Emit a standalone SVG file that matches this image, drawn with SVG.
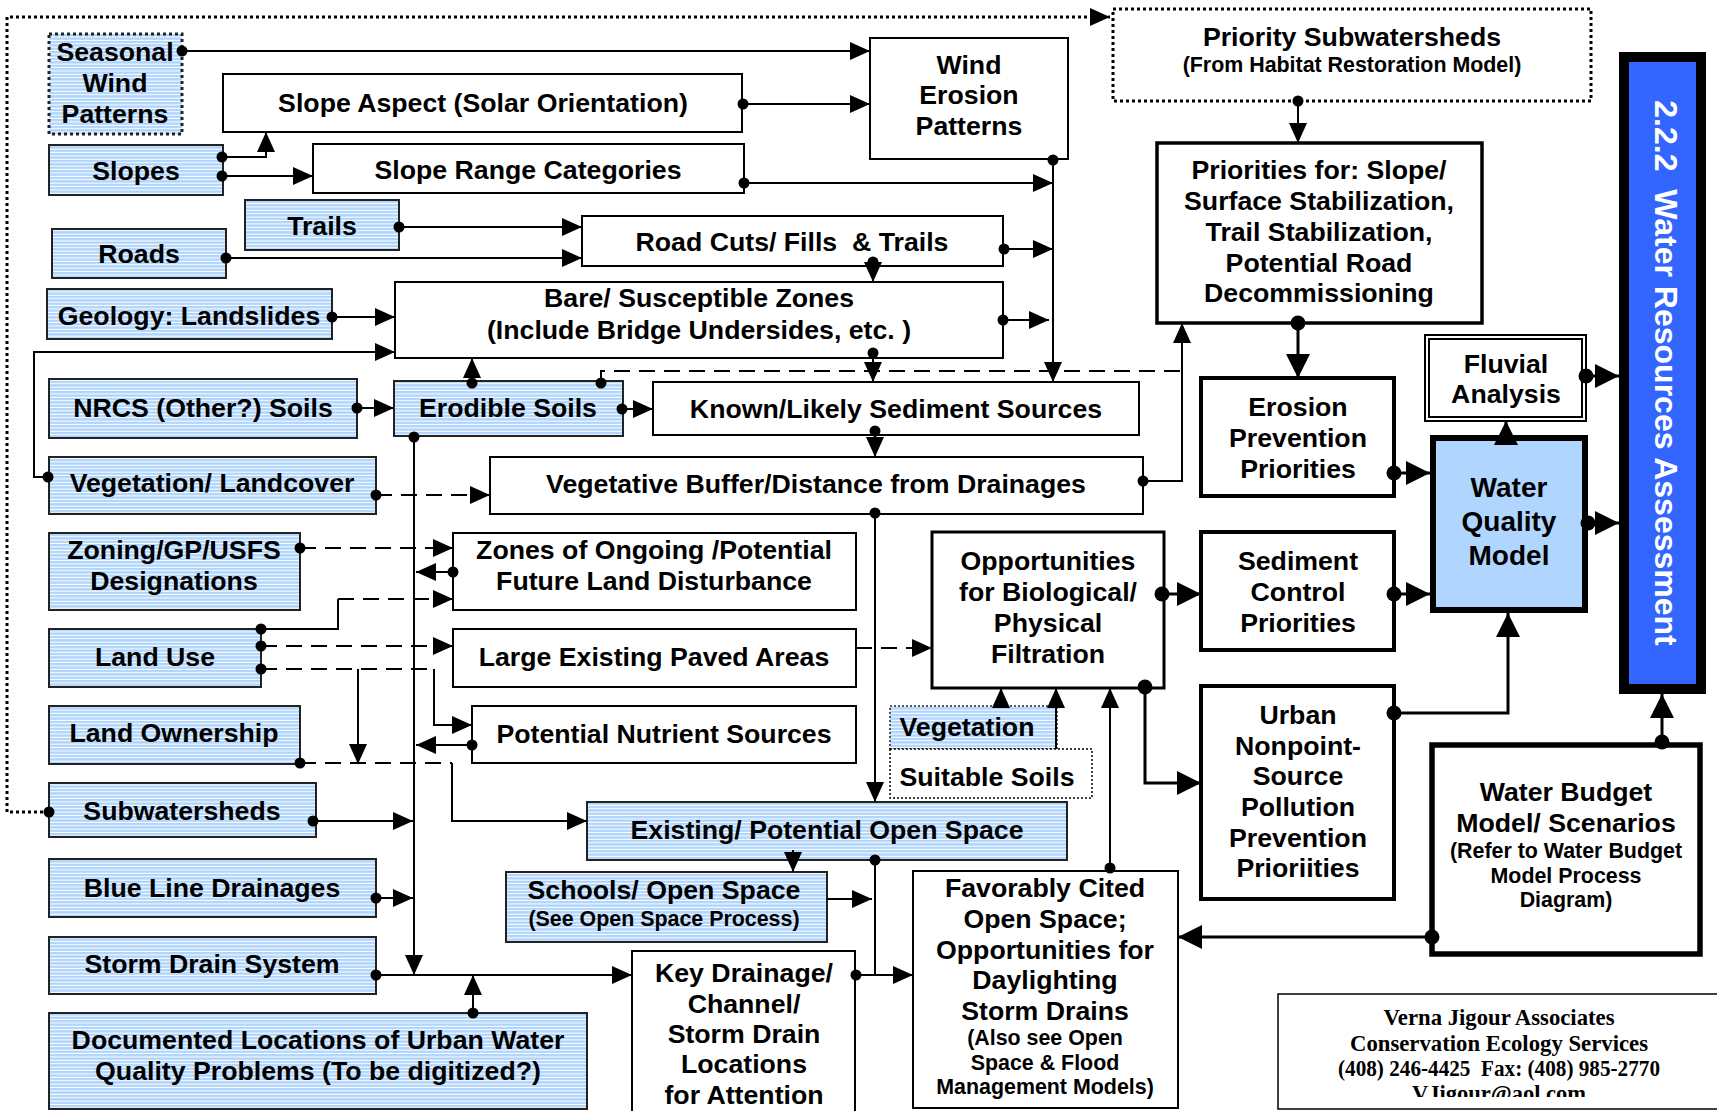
<svg xmlns="http://www.w3.org/2000/svg" width="1717" height="1111" viewBox="0 0 1717 1111">
<style>
.box{fill:#fff;stroke:#000;stroke-width:2}
.blue{fill:url(#st);stroke:#222;stroke-width:2}
.dotb{stroke-dasharray:3 3;stroke-width:3}
.fine{stroke-dasharray:2 2;stroke-width:1.5}
.t{font-family:"Liberation Sans",Arial,sans-serif;font-weight:bold;font-size:26.7px;text-anchor:middle;fill:#000;white-space:pre}
.s{font-size:21.4px}
.c{fill:none;stroke:#000;stroke-width:2}
.L{stroke-width:3}
.dash{stroke-dasharray:16 9}
.dot{stroke-dasharray:3 3;stroke-width:3}
.ft{font-family:"Liberation Serif","Times New Roman",serif;font-weight:bold;font-size:22.5px;text-anchor:middle;fill:#000;white-space:pre}
</style>
<defs>
<pattern id="st" patternUnits="userSpaceOnUse" width="10" height="3.4">
<rect width="10" height="3.4" fill="#b0d5fc"/>
<rect y="2.4" width="10" height="1" fill="#fff"/>
</pattern>
<marker id="a" markerUnits="userSpaceOnUse" viewBox="0 0 20 18" markerWidth="20" markerHeight="18" refX="20" refY="9" orient="auto"><path d="M0,0 L20,9 L0,18 z" fill="#000"/></marker>
<marker id="A" markerUnits="userSpaceOnUse" viewBox="0 0 24 24" markerWidth="24" markerHeight="24" refX="24" refY="12" orient="auto"><path d="M0,0 L24,12 L0,24 z" fill="#000"/></marker>
<marker id="d" markerUnits="userSpaceOnUse" viewBox="0 0 13 13" markerWidth="13" markerHeight="13" refX="6.5" refY="6.5"><circle cx="6.5" cy="6.5" r="5.5" fill="#000"/></marker>
<marker id="D" markerUnits="userSpaceOnUse" viewBox="0 0 17 17" markerWidth="17" markerHeight="17" refX="8.5" refY="8.5"><circle cx="8.5" cy="8.5" r="7.5" fill="#000"/></marker>
<clipPath id="fc"><rect x="1270" y="990" width="450" height="107"/></clipPath>
</defs>
<rect width="1717" height="1111" fill="#fff"/>

<g id="n-seasonal"><rect class="blue dotb" x="49" y="34" width="133" height="100"/><text class="t" x="115" y="61">Seasonal</text><text class="t" x="115" y="92">Wind</text><text class="t" x="115" y="123">Patterns</text></g>
<g id="n-slopeaspect"><rect class="box" x="223" y="74" width="519" height="58"/><text class="t" x="483" y="112">Slope Aspect (Solar Orientation)</text></g>
<g id="n-slopes"><rect class="blue" x="49" y="145" width="174" height="50"/><text class="t" x="136" y="180">Slopes</text></g>
<g id="n-sloperange"><rect class="box" x="313" y="144" width="431" height="49"/><text class="t" x="528" y="179">Slope Range Categories</text></g>
<g id="n-winderosion"><rect class="box" x="870" y="38" width="198" height="121"/><text class="t" x="969" y="74">Wind</text><text class="t" x="969" y="104">Erosion</text><text class="t" x="969" y="135">Patterns</text></g>
<g id="n-trails"><rect class="blue" x="245" y="200" width="154" height="50"/><text class="t" x="322" y="235">Trails</text></g>
<g id="n-roads"><rect class="blue" x="52" y="229" width="174" height="49"/><text class="t" x="139" y="263">Roads</text></g>
<g id="n-roadcuts"><rect class="box" x="582" y="216" width="421" height="50"/><text class="t" x="792" y="251">Road Cuts/ Fills  &amp; Trails</text></g>
<g id="n-geology"><rect class="blue" x="47" y="289" width="285" height="50"/><text class="t" x="189" y="325">Geology: Landslides</text></g>
<g id="n-bare"><rect class="box" x="395" y="282" width="608" height="76"/><text class="t" x="699" y="307">Bare/ Susceptible Zones</text><text class="t" x="699" y="339">(Include Bridge Undersides, etc. )</text></g>
<g id="n-nrcs"><rect class="blue" x="49" y="379" width="308" height="59"/><text class="t" x="203" y="417">NRCS (Other?) Soils</text></g>
<g id="n-erodible"><rect class="blue" x="394" y="381" width="229" height="55"/><text class="t" x="508" y="417">Erodible Soils</text></g>
<g id="n-known"><rect class="box" x="653" y="382" width="486" height="53"/><text class="t" x="896" y="418">Known/Likely Sediment Sources</text></g>
<g id="n-veglandcover"><rect class="blue" x="49" y="457" width="327" height="57"/><text class="t" x="212" y="492">Vegetation/ Landcover</text></g>
<g id="n-vegbuffer"><rect class="box" x="490" y="457" width="653" height="57"/><text class="t" x="816" y="493">Vegetative Buffer/Distance from Drainages</text></g>
<g id="n-zoning"><rect class="blue" x="49" y="533" width="251" height="77"/><text class="t" x="174" y="559">Zoning/GP/USFS</text><text class="t" x="174" y="590">Designations</text></g>
<g id="n-zones"><rect class="box" x="453" y="533" width="403" height="77"/><text class="t" x="654" y="559">Zones of Ongoing /Potential</text><text class="t" x="654" y="590">Future Land Disturbance</text></g>
<g id="n-opportunities"><rect class="box" x="932" y="532" width="232" height="156" style="stroke-width:3"/><text class="t" x="1048" y="570">Opportunities</text><text class="t" x="1048" y="601">for Biological/</text><text class="t" x="1048" y="632">Physical</text><text class="t" x="1048" y="663">Filtration</text></g>
<g id="n-landuse"><rect class="blue" x="49" y="629" width="212" height="58"/><text class="t" x="155" y="666">Land Use</text></g>
<g id="n-paved"><rect class="box" x="453" y="629" width="403" height="58"/><text class="t" x="654" y="666">Large Existing Paved Areas</text></g>
<g id="n-landownership"><rect class="blue" x="49" y="706" width="251" height="58"/><text class="t" x="174" y="742">Land Ownership</text></g>
<g id="n-nutrient"><rect class="box" x="472" y="706" width="384" height="57"/><text class="t" x="664" y="743">Potential Nutrient Sources</text></g>
<g id="n-vegetation"><rect class="blue fine" x="890" y="706" width="167" height="43"/><text class="t" x="967" y="736">Vegetation</text></g>
<g id="n-suitablesoils"><rect class="box fine" x="890" y="749" width="202" height="49"/><text class="t" x="987" y="786">Suitable Soils</text></g>
<g id="n-subwatersheds"><rect class="blue" x="49" y="783" width="267" height="54"/><text class="t" x="182" y="820">Subwatersheds</text></g>
<g id="n-openspace"><rect class="blue" x="587" y="802" width="480" height="58"/><text class="t" x="827" y="839">Existing/ Potential Open Space</text></g>
<g id="n-blueline"><rect class="blue" x="49" y="859" width="327" height="58"/><text class="t" x="212" y="897">Blue Line Drainages</text></g>
<g id="n-schools"><rect class="blue" x="506" y="872" width="321" height="70"/><text class="t" x="664" y="899">Schools/ Open Space</text><text class="t s" x="664" y="926">(See Open Space Process)</text></g>
<g id="n-stormdrain"><rect class="blue" x="49" y="937" width="327" height="57"/><text class="t" x="212" y="973">Storm Drain System</text></g>
<g id="n-documented"><rect class="blue" x="49" y="1013" width="538" height="96"/><text class="t" x="318" y="1049">Documented Locations of Urban Water</text><text class="t" x="318" y="1080">Quality Problems (To be digitized?)</text></g>
<g id="n-keydrainage"><rect class="box" x="632" y="951" width="223" height="175"/><text class="t" x="744" y="982">Key Drainage/</text><text class="t" x="744" y="1013">Channel/</text><text class="t" x="744" y="1043">Storm Drain</text><text class="t" x="744" y="1073">Locations</text><text class="t" x="744" y="1104">for Attention</text></g>
<g id="n-favorably"><rect class="box" x="913" y="871" width="265" height="237"/><text class="t" x="1045" y="897">Favorably Cited</text><text class="t" x="1045" y="928">Open Space;</text><text class="t" x="1045" y="959">Opportunities for</text><text class="t" x="1045" y="989">Daylighting</text><text class="t" x="1045" y="1020">Storm Drains</text><text class="t s" x="1045" y="1045">(Also see Open</text><text class="t s" x="1045" y="1070">Space &amp; Flood</text><text class="t s" x="1045" y="1094">Management Models)</text></g>
<g id="n-prioritysubwatersheds"><rect class="box dotb" x="1113" y="9" width="478" height="92"/><text class="t" x="1352" y="46">Priority Subwatersheds</text><text class="t s" x="1352" y="72">(From Habitat Restoration Model)</text></g>
<g id="n-priorities"><rect class="box" x="1157" y="143" width="325" height="180" style="stroke-width:3.5"/><text class="t" x="1319" y="179">Priorities for: Slope/</text><text class="t" x="1319" y="210">Surface Stabilization,</text><text class="t" x="1319" y="241">Trail Stabilization,</text><text class="t" x="1319" y="272">Potential Road</text><text class="t" x="1319" y="302">Decommissioning</text></g>
<g id="n-erosion"><rect class="box" x="1201" y="378" width="193" height="118" style="stroke-width:4"/><text class="t" x="1298" y="416">Erosion</text><text class="t" x="1298" y="447">Prevention</text><text class="t" x="1298" y="478">Priorities</text></g>
<g id="n-fluvial"><rect class="box" x="1425" y="335" width="161" height="86"/><rect class="box" x="1429" y="339" width="153" height="78"/><text class="t" x="1506" y="373">Fluvial</text><text class="t" x="1506" y="403">Analysis</text></g>
<g id="n-wqm"><rect x="1433" y="438" width="152" height="172" fill="#b0d5fe" stroke="#000" stroke-width="6"/><text class="t" x="1509" y="497" style="font-size:28px">Water</text><text class="t" x="1509" y="531" style="font-size:28px">Quality</text><text class="t" x="1509" y="565" style="font-size:28px">Model</text></g>
<g id="n-sediment"><rect class="box" x="1201" y="532" width="193" height="118" style="stroke-width:4"/><text class="t" x="1298" y="570">Sediment</text><text class="t" x="1298" y="601">Control</text><text class="t" x="1298" y="632">Priorities</text></g>
<g id="n-urban"><rect class="box" x="1201" y="686" width="193" height="213" style="stroke-width:4"/><text class="t" x="1298" y="724">Urban</text><text class="t" x="1298" y="755">Nonpoint-</text><text class="t" x="1298" y="785">Source</text><text class="t" x="1298" y="816">Pollution</text><text class="t" x="1298" y="847">Prevention</text><text class="t" x="1298" y="877">Prioriities</text></g>
<g id="n-waterbudget"><rect class="box" x="1432" y="745" width="268" height="209" style="stroke-width:5.5"/><text class="t" x="1566" y="801">Water Budget</text><text class="t" x="1566" y="832">Model/ Scenarios</text><text class="t s" x="1566" y="858">(Refer to Water Budget</text><text class="t s" x="1566" y="883">Model Process</text><text class="t s" x="1566" y="907">Diagram)</text></g>
<g id="n-assessment"><rect x="1624" y="57" width="77" height="632" fill="#3366ff" stroke="#000" stroke-width="10"/><text class="t" transform="translate(1655,373) rotate(90)" style="font-size:32px;fill:#fff">2.2.2  Water Resources Assessment</text></g>
<g id="n-credits"><rect x="1278" y="994" width="445" height="115" fill="#fff" stroke="#000" stroke-width="1.5"/><g clip-path="url(#fc)"><text class="ft" x="1499" y="1025" textLength="231" lengthAdjust="spacingAndGlyphs">Verna Jigour Associates</text><text class="ft" x="1499" y="1051" textLength="298" lengthAdjust="spacingAndGlyphs">Conservation Ecology Services</text><text class="ft" x="1499" y="1076" textLength="322" lengthAdjust="spacingAndGlyphs">(408) 246-4425  Fax: (408) 985-2770</text><text class="ft" x="1499" y="1101">VJigour@aol.com</text></g></g>

<g id="connectors">
<path class="c dot" d="M49,812 H7 V17 H1110" marker-start="url(#d)" marker-end="url(#a)"/>
<path class="c" d="M182,51 H870" marker-start="url(#d)" marker-end="url(#a)"/>
<path class="c" d="M743,104 H870" marker-start="url(#d)" marker-end="url(#a)"/>
<path class="c" d="M222,157 H266 V132" marker-start="url(#d)" marker-end="url(#a)"/>
<path class="c" d="M222,176 H313" marker-start="url(#d)" marker-end="url(#a)"/>
<path class="c" d="M744,183 H1053" marker-start="url(#d)" marker-end="url(#a)"/>
<path class="c" d="M1053,160 V382" marker-start="url(#d)" marker-end="url(#a)"/>
<path class="c" d="M1004,249 H1053" marker-start="url(#d)" marker-end="url(#a)"/>
<path class="c" d="M1003,320 H1049" marker-start="url(#d)" marker-end="url(#a)"/>
<path class="c" d="M399,227 H582" marker-start="url(#d)" marker-end="url(#a)"/>
<path class="c" d="M226,258 H582" marker-start="url(#d)" marker-end="url(#a)"/>
<path class="c" d="M873,262 V282" marker-start="url(#d)" marker-end="url(#a)"/>
<path class="c" d="M332,317 H395" marker-start="url(#d)" marker-end="url(#a)"/>
<path class="c" d="M48,477 H34 V352 H395" marker-start="url(#d)" marker-end="url(#a)"/>
<path class="c" d="M357,408 H394" marker-start="url(#d)" marker-end="url(#a)"/>
<path class="c" d="M472,383 V358" marker-start="url(#d)" marker-end="url(#a)"/>
<path class="c dash" d="M601,383 V371 H1182" marker-start="url(#d)"/>
<path class="c" d="M873,353 V382" marker-start="url(#d)" marker-end="url(#a)"/>
<path class="c" d="M622,409 H653" marker-start="url(#d)" marker-end="url(#a)"/>
<path class="c" d="M875,431 V457" marker-start="url(#d)" marker-end="url(#a)"/>
<path class="c" d="M414,437 V975" marker-start="url(#d)" marker-end="url(#a)"/>
<path class="c dash" d="M376,495 H490" marker-start="url(#d)" marker-end="url(#a)"/>
<path class="c dash" d="M300,548 H453" marker-start="url(#d)" marker-end="url(#a)"/>
<path class="c" d="M453,572 H416" marker-start="url(#d)" marker-end="url(#a)"/>
<path class="c" d="M261,629 H338 V599" marker-start="url(#d)"/>
<path class="c dash" d="M338,599 H453" marker-end="url(#a)"/>
<path class="c dash" d="M261,646 H453" marker-start="url(#d)" marker-end="url(#a)"/>
<path class="c dash" d="M261,669 H434" marker-start="url(#d)"/>
<path class="c" d="M434,669 V725 H472" marker-end="url(#a)"/>
<path class="c" d="M358,669 V764" marker-end="url(#a)"/>
<path class="c" d="M472,745 H416" marker-start="url(#d)" marker-end="url(#a)"/>
<path class="c dash" d="M300,763 H452" marker-start="url(#d)"/>
<path class="c" d="M452,763 V821 H587" marker-end="url(#a)"/>
<path class="c" d="M313,821 H413" marker-start="url(#d)" marker-end="url(#a)"/>
<path class="c" d="M376,898 H413" marker-start="url(#d)" marker-end="url(#a)"/>
<path class="c" d="M376,975 H632" marker-start="url(#d)" marker-end="url(#a)"/>
<path class="c" d="M473,1013 V975" marker-start="url(#d)" marker-end="url(#a)"/>
<path class="c" d="M875,513 V802" marker-start="url(#d)" marker-end="url(#a)"/>
<path class="c dash" d="M856,648 H932" marker-end="url(#a)"/>
<path class="c" d="M1143,481 H1182 V323" marker-start="url(#d)" marker-end="url(#a)"/>
<path class="c" d="M1298,101 V143" marker-start="url(#d)" marker-end="url(#a)"/>
<path class="c" d="M793,850 V872" marker-end="url(#a)"/>
<path class="c" d="M875,860 V975" marker-start="url(#d)"/>
<path class="c" d="M856,975 H913" marker-start="url(#d)" marker-end="url(#a)"/>
<path class="c" d="M827,899 H872" marker-end="url(#a)"/>
<path class="c" d="M1001,706 V688" marker-end="url(#a)"/>
<path class="c" d="M1056,749 V688" marker-end="url(#a)"/>
<path class="c" d="M1110,868 V688" marker-start="url(#d)" marker-end="url(#a)"/>
<path class="c L" d="M1298,323 V378" marker-start="url(#D)" marker-end="url(#A)"/>
<path class="c L" d="M1394,473 H1430" marker-start="url(#D)" marker-end="url(#A)"/>
<path class="c L" d="M1394,594 H1430" marker-start="url(#D)" marker-end="url(#A)"/>
<path class="c L" d="M1162,594 H1201" marker-start="url(#D)" marker-end="url(#A)"/>
<path class="c L" d="M1145,687 V783 H1201" marker-start="url(#D)" marker-end="url(#A)"/>
<path class="c L" d="M1394,713 H1508 V613" marker-start="url(#D)" marker-end="url(#A)"/>
<path class="c L" d="M1506,445 V421" marker-end="url(#A)"/>
<path class="c L" d="M1586,376 H1619" marker-start="url(#D)" marker-end="url(#A)"/>
<path class="c L" d="M1588,523 H1619" marker-start="url(#D)" marker-end="url(#A)"/>
<path class="c L" d="M1662,742 V694" marker-start="url(#D)" marker-end="url(#A)"/>
<path class="c L" d="M1432,937 H1178" marker-start="url(#D)" marker-end="url(#A)"/>
</g>
</svg>
